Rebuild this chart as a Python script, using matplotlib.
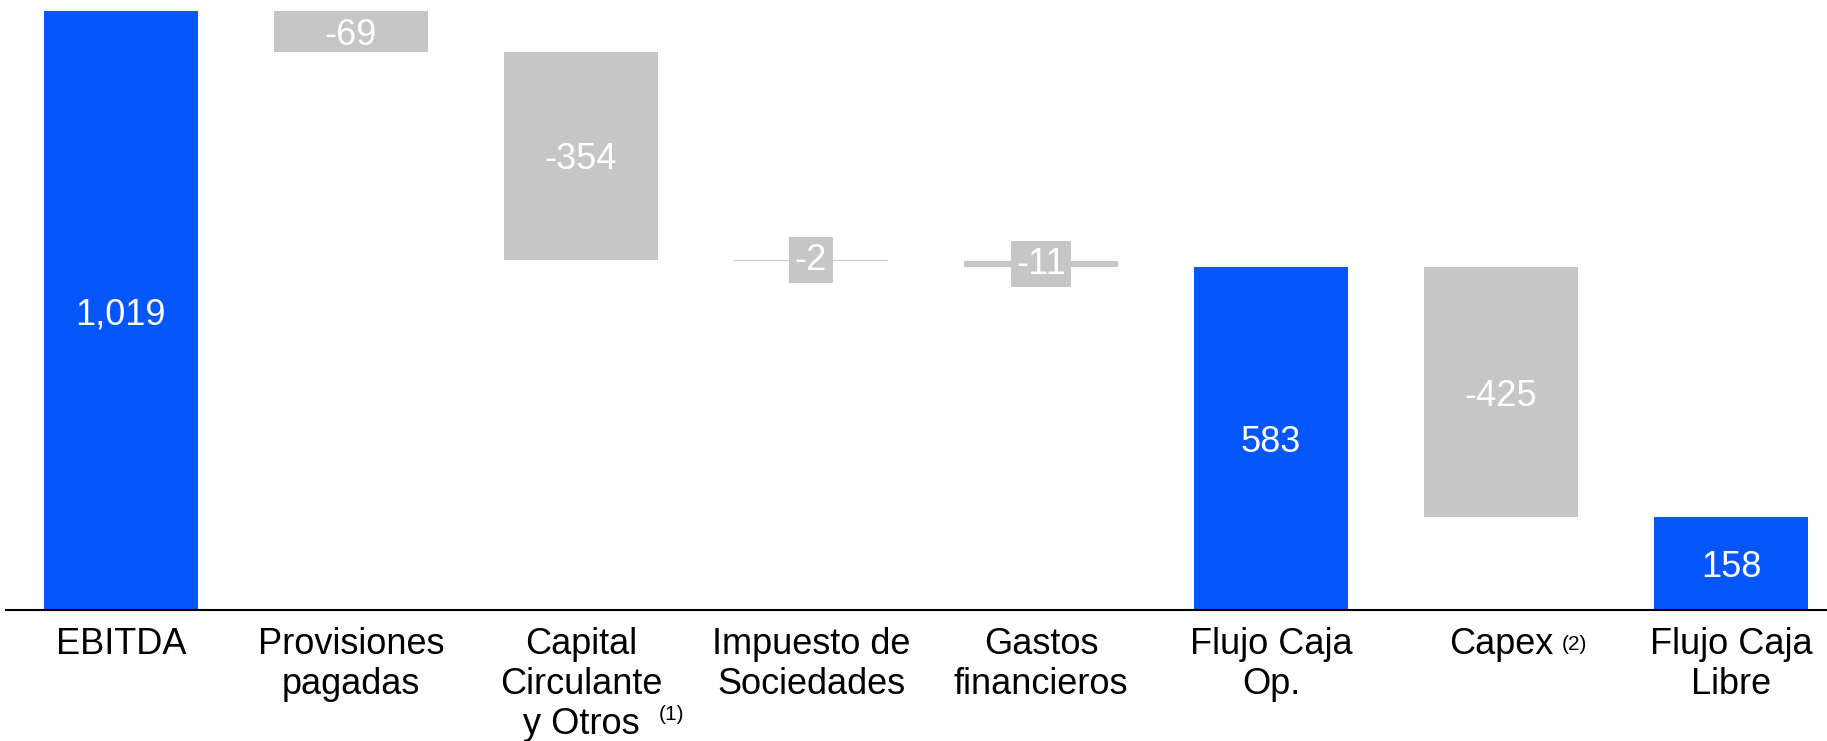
import matplotlib
matplotlib.use("Agg")
import matplotlib.pyplot as plt
import numpy as np

plt.rcParams['font.family'] = ['Liberation Sans', 'DejaVu Sans']

categories = ["EBITDA", "Provisiones\npagadas", "Capital\nCirculante\ny Otros", "Impuesto de\nSociedades",
              "Gastos\nfinancieros", "Flujo Caja\nOp.", "Capex", "Flujo Caja\nLibre"]
values = [1019, -69, -354, -2, -11, 583, -425, 158]
is_total = [True, False, False, False, False, True, False, True]
value_labels = ["1,019", "-69", "-354", "-2", "-11", "583", "-425", "158"]

BLUE = "#0657FB"
GRAY = "#C6C6C6"

fig = plt.figure(figsize=(18.27, 7.41), dpi=100)
ax = fig.add_axes([6/1827, (741-610)/741, 1 - 6/1827, (610-11)/741])

x = np.arange(len(values))
width = 154/230
running = 0
for i, (v, tot) in enumerate(zip(values, is_total)):
    if tot:
        bottom, height, color = 0, v, BLUE
        running = v
    else:
        bottom, height, color = running + v, -v, GRAY
        running = running + v
    ax.bar(x[i], height, bottom=bottom, width=width, color=color, linewidth=0, clip_on=False)
    cy = bottom + height / 2
    if not tot and abs(v) < 50:
        ax.text(x[i], cy, value_labels[i], ha='center', va='center', color='white', fontsize=26,
                bbox=dict(boxstyle='square,pad=0.15', facecolor=GRAY, edgecolor='none'))
    else:
        ax.text(x[i], cy, value_labels[i], ha='center', va='center_baseline', color='white',
                fontsize=26)

ax.set_xlim(-0.5, (1827-121)/230)
ax.set_ylim(0, 1019)
ax.set_yticks([])
ax.set_xticks(x)
ax.set_xticklabels(categories, fontsize=26, linespacing=1.19)
ax.tick_params(axis='x', length=0, pad=12)
for s in ['top', 'right', 'left']:
    ax.spines[s].set_visible(False)
ax.spines['bottom'].set_linewidth(1.5)
ax.spines['bottom'].set_color('black')

# footnote superscripts
ax.annotate("(1)", xy=(2, 0), xycoords='data', xytext=(78, -95), textcoords='offset pixels',
            ha='left', va='top', fontsize=15)
ax.annotate("(2)", xy=(6, 0), xycoords='data', xytext=(61, -25), textcoords='offset pixels',
            ha='left', va='top', fontsize=15)

fig.savefig("out.png", dpi=100)
